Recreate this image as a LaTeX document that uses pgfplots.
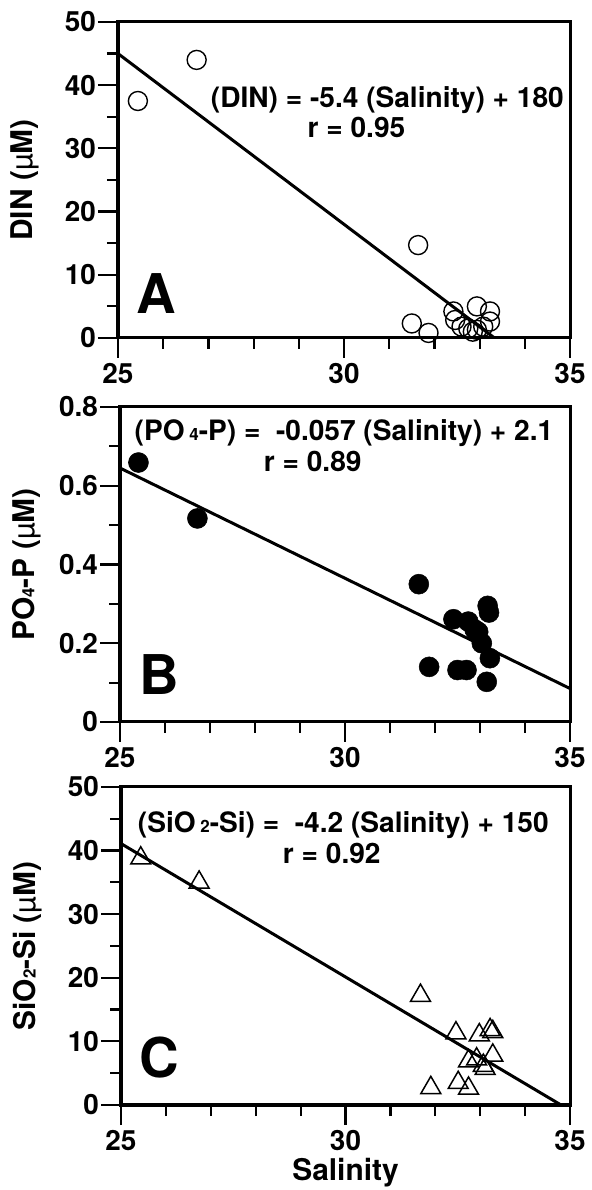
\documentclass[border=0pt]{standalone}
\usepackage{fontspec}
\setmainfont{TeX Gyre Heros}
\usepackage{pgfplots}
\usepackage{pgfplotstable}
\pgfplotsset{compat=1.18}

\pgfplotstableread{
x y
25.44 37.5
26.74 44.0
31.64 14.7
31.50 2.3
31.87 0.8
32.42 4.2
32.46 2.85
32.60 1.8
32.75 1.5
32.94 5.0
33.23 4.2
33.23 2.6
32.94 1.3
32.85 1.0
33.08 1.8
}\dinA

\pgfplotstableread{
x y
25.41 0.659
26.72 0.517
31.64 0.350
31.87 0.140
32.41 0.261
32.50 0.132
32.70 0.132
32.74 0.255
32.96 0.229
33.04 0.200
33.17 0.295
33.20 0.278
33.22 0.162
33.15 0.102
32.88 0.235
}\poB

\pgfplotstableread{
x y
25.44 38.8
26.74 35.0
31.67 17.2
31.90 2.7
32.46 11.3
32.51 3.5
32.74 2.6
32.74 6.9
32.92 7.2
32.98 11.0
33.07 6.2
33.11 5.7
33.22 11.8
33.28 11.5
33.28 7.8
}\siC

\newcommand{\eqfont}{\fontsize{28.2}{28.2}\selectfont\bfseries}
\newcommand{\sub}[1]{{\fontsize{17}{17}\selectfont #1}}

\pgfplotsset{
  panel/.style={
    scale only axis, anchor=south west,
    xmin=25, xmax=35, xtick={25,30,35}, minor xtick={26,27,28,29,31,32,33,34},
    tick align=outside, tick pos=left,
    major tick length=20bp, minor tick length=11bp,
    line width=3bp,
    every tick/.style={line width=2.2bp, black},
    tick label style={font=\fontsize{28}{28}\selectfont\bfseries},
    yticklabel style={inner xsep=0.5bp},
    /pgf/number format/assume math mode=true,
    every axis y label/.style={at={(axis description cs:-0.19,0.5)}, rotate=90, anchor=base, font=\fontsize{30}{30}\selectfont\bfseries},
    every axis x label/.style={at={(axis description cs:0.5,-0.236)}, anchor=base, font=\fontsize{30}{30}\selectfont\bfseries},
  }
}

\begin{document}
\begin{tikzpicture}
\useasboundingbox (0,0) rectangle (592bp,1190bp);

% Panel A
\begin{axis}[panel, at={(118bp,852bp)}, width=452bp, height=316bp,
  ymin=0, ymax=50, ytick={0,10,20,30,40,50}, minor ytick={5,15,25,35,45},
  ylabel={DIN ({\mdseries µ}M)}]
\addplot[line width=3bp, no marks] coordinates {(25,45) (33.33,0)};
\addplot[only marks, mark=o, mark size=9.5bp, mark options={line width=1.4bp, black}] table[x=x,y=y]{\dinA};
\node[anchor=base west, font=\eqfont] at (rel axis cs:0.195,0.728) {(DIN) = -5.4 (Salinity) + 180};
\node[anchor=base west, font=\eqfont] at (rel axis cs:0.409,0.633) {r = 0.95};
\node[anchor=base west, font=\fontsize{55}{55}\selectfont\bfseries] at (rel axis cs:0.031,0.079) {A};
\end{axis}

% Panel B
\begin{axis}[panel, at={(120bp,468bp)}, width=450bp, height=315bp,
  ymin=0, ymax=0.8, ytick={0,0.2,0.4,0.6,0.8}, minor ytick={0.1,0.3,0.5,0.7},
  ylabel={PO\sub{4}-P ({\mdseries µ}M)}]
\addplot[line width=3bp, no marks] coordinates {(25,0.645) (35,0.085)};
\addplot[only marks, mark=*, mark size=10bp, mark options={black, line width=0.5bp}] table[x=x,y=y]{\poB};
\node[anchor=base west, font=\eqfont] at (rel axis cs:0.022,0.895) {(PO\,\sub{4}-P) =\ \ -0.057 (Salinity) + 2.1};
\node[anchor=base west, font=\eqfont] at (rel axis cs:0.309,0.794) {r = 0.89};
\node[anchor=base west, font=\fontsize{55}{55}\selectfont\bfseries] at (rel axis cs:0.033,0.086) {B};
\end{axis}

% Panel C
\begin{axis}[panel, at={(121bp,85bp)}, width=449bp, height=318bp,
  ymin=0, ymax=50, ytick={0,10,20,30,40,50}, minor ytick={5,15,25,35,45},
  ylabel={SiO\sub{2}-Si ({\mdseries µ}M)}, xlabel={Salinity}]
\addplot[line width=3bp, no marks] coordinates {(25,41.1) (34.8,0)};
\addplot[only marks, mark=triangle, mark size=11.5bp, mark options={line width=1.5bp, black}] table[x=x,y=y]{\siC};
\node[anchor=base west, font=\eqfont] at (rel axis cs:0.027,0.858) {(SiO\,\sub{2}-Si) =\ \ -4.2 (Salinity) + 150};
\node[anchor=base west, font=\eqfont] at (rel axis cs:0.35,0.758) {r = 0.92};
\node[anchor=base west, font=\fontsize{55}{55}\selectfont\bfseries] at (rel axis cs:0.031,0.085) {C};
\end{axis}
\end{tikzpicture}
\end{document}
